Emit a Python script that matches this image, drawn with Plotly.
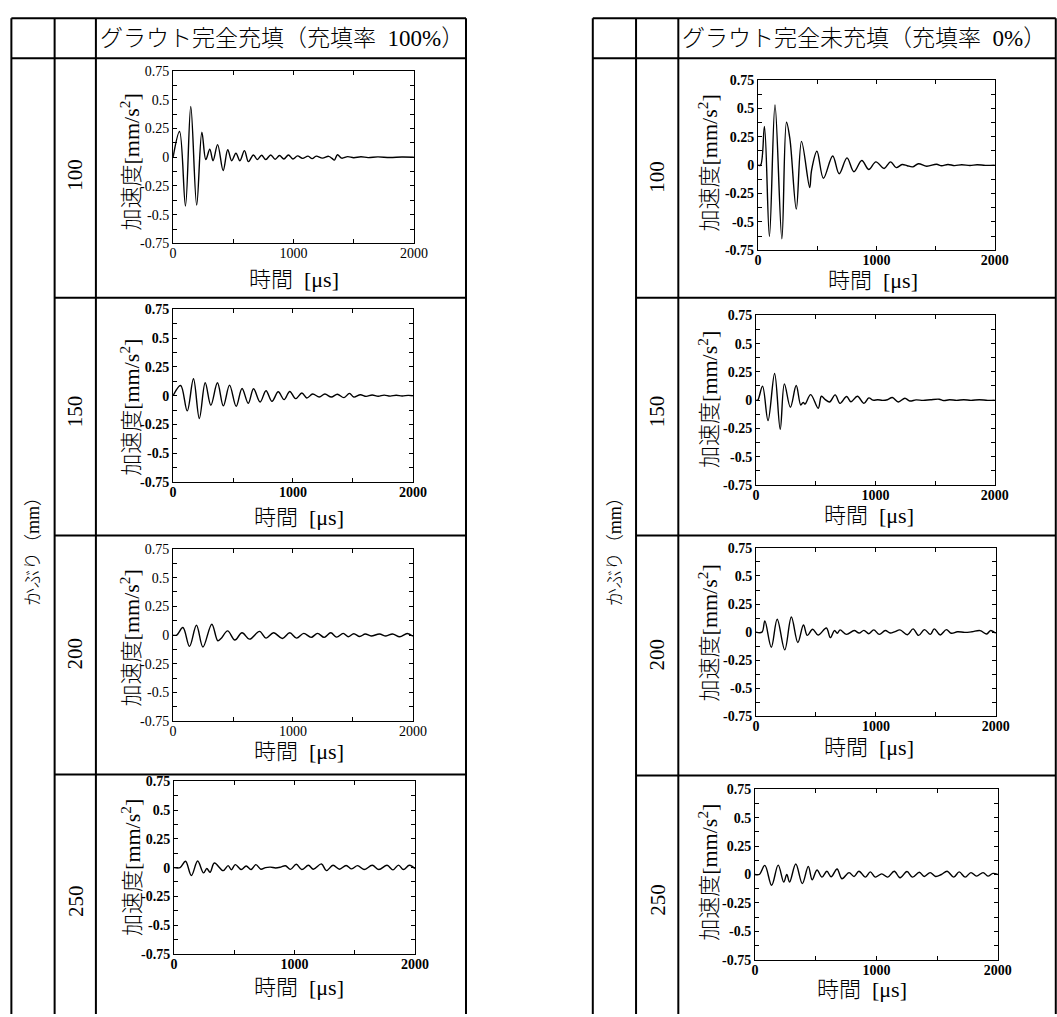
import plotly.graph_objects as go

W, H = 1057, 1017

# ---------------- data ----------------
covers = ["100", "150", "200", "250"]
headers = ["グラウト完全充填（充填率\u2002100%）", "グラウト完全未充填（充填率\u20020%）"]
side_label = "かぶり（mm）"
x_title = "時間\u2002[μs]"
y_title = "加速度[mm/s<sup>2</sup>]"
x_tick_vals = [0, 1000, 2000]
x_tick_text = ["0", "1000", "2000"]
y_tick_vals = [-0.75, -0.5, -0.25, 0, 0.25, 0.5, 0.75]
y_tick_text = ["-0.75", "-0.5", "-0.25", "0", "0.25", "0.5", "0.75"]

# (time [us], acceleration)
full_100 = [(0, 0), (54, 0.224), (103, -0.424), (147, 0.442), (196, -0.416), (239, 0.218),
            (272, -0.02), (305, 0.07), (332, -0.03), (370, 0.11), (416, -0.115), (454, 0.065),
            (487, -0.03), (522, 0.035), (555, -0.03), (593, 0.058), (626, -0.038), (667, 0.02),
            (700, -0.02), (735, 0.018), (770, -0.02), (811, 0.02), (848, -0.018), (884, 0.015),
            (920, -0.015), (958, 0.02), (995, -0.015), (1034, 0.012), (1075, -0.01), (1121, 0.01),
            (1155, -0.012), (1189, 0.01), (1240, -0.008), (1292, 0.008), (1320, -0.01),
            (1340, -0.025), (1365, 0.022), (1400, -0.008), (1450, 0.005), (1500, -0.004),
            (1560, 0.004), (1620, -0.003), (1700, 0.003), (1800, -0.002), (1900, 0.002), (2000, 0)]

full_150 = [(0, 0), (63, 0.089), (118, -0.132), (170, 0.147), (219, -0.198), (268, 0.112),
            (315, -0.083), (370, 0.112), (419, -0.089), (471, 0.092), (526, -0.092), (575, 0.063),
            (627, -0.066), (671, 0.06), (726, -0.055), (775, 0.043), (825, -0.049), (877, 0.034),
            (926, -0.034), (973, 0.037), (1022, -0.026), (1074, 0.023), (1115, -0.02), (1164, 0.014),
            (1219, -0.011), (1266, 0.014), (1320, -0.012), (1370, 0.012), (1425, -0.017), (1471, 0.02),
            (1507, -0.012), (1562, 0.008), (1610, -0.006), (1660, 0.006), (1710, -0.005), (1760, 0.005),
            (1810, -0.004), (1860, 0.004), (1910, -0.003), (1960, 0.003), (2000, 0)]

full_200 = [(0, 0), (30, 0), (82, 0.066), (137, -0.098), (195, 0.086), (249, -0.103), (323, 0.095),
            (373, -0.049), (400, -0.03), (455, 0.037), (515, -0.043), (575, 0.02), (638, -0.035),
            (721, 0.032), (775, -0.026), (838, 0.02), (912, -0.029), (973, 0.02), (1030, -0.026),
            (1090, 0.015), (1151, -0.02), (1205, 0.015), (1260, -0.02), (1315, 0.02), (1364, -0.018),
            (1419, 0.015), (1460, -0.014), (1507, 0.012), (1556, -0.012), (1603, 0.01), (1652, -0.008),
            (1721, 0.01), (1775, -0.008), (1830, 0.01), (1890, -0.015), (1953, 0.014), (2000, -0.01)]

full_250 = [(0, 0), (50, 0), (95, 0.055), (144, -0.069), (196, 0.057), (245, -0.046), (272, -0.008),
            (299, -0.04), (335, 0.04), (408, -0.026), (449, 0.017), (476, -0.018), (509, 0.026),
            (558, -0.017), (599, 0.014), (639, -0.017), (680, 0.026), (721, -0.014), (760, 0.0),
            (800, 0.004), (843, -0.003), (885, 0.004), (925, 0.016), (966, -0.015), (1015, 0.029),
            (1061, -0.017), (1116, 0.02), (1157, -0.014), (1224, 0.032), (1265, -0.026), (1320, 0.02),
            (1374, -0.014), (1429, 0.019), (1475, -0.011), (1524, 0.017), (1578, -0.017), (1646, 0.02),
            (1701, -0.017), (1769, 0.02), (1818, -0.02), (1864, 0.022), (1905, -0.017), (1954, 0.02),
            (2000, -0.01)]

empty_100 = [(0, 0), (22, 0), (55, 0.34), (97, -0.628), (144, 0.529), (202, -0.648), (241, 0.378),
             (270, 0.23), (324, -0.387), (368, 0.209), (437, -0.198), (452, -0.05), (498, 0.122),
             (553, -0.116), (631, 0.081), (686, -0.076), (752, 0.064), (810, -0.058), (877, 0.041),
             (935, -0.038), (996, 0.029), (1065, -0.029), (1120, 0.029), (1167, -0.022), (1217, 0.005),
             (1260, -0.005), (1306, -0.015), (1355, 0.012), (1425, -0.01), (1508, 0.008), (1550, -0.006),
             (1604, 0.006), (1660, -0.004), (1720, 0.004), (1790, -0.003), (1850, 0.003), (1920, -0.002),
             (2000, 0)]

empty_150 = [(0, 0), (15, 0), (55, 0.124), (101, -0.181), (156, 0.236), (203, -0.259), (238, 0.144),
             (288, -0.063), (337, 0.129), (375, -0.043), (395, -0.02), (410, -0.035), (458, 0.049),
             (521, -0.072), (548, 0.034), (580, 0.005), (616, -0.017), (663, 0.046), (704, -0.029),
             (759, 0.032), (795, -0.014), (849, 0.034), (904, -0.029), (945, 0.02), (980, 0.0),
             (1020, 0.003), (1060, -0.002), (1100, 0.003), (1142, 0.023), (1192, -0.017), (1247, 0.017),
             (1288, -0.008), (1340, 0.002), (1400, -0.002), (1460, 0.003), (1534, 0.008), (1570, -0.004),
             (1620, 0.003), (1680, -0.002), (1740, 0.003), (1800, -0.002), (1870, 0.003), (1940, -0.002),
             (2000, 0)]

empty_200 = [(0, 0), (50, 0), (74, 0.1), (128, -0.135), (177, 0.115), (240, -0.158), (295, 0.135),
             (349, -0.092), (396, 0.063), (428, -0.029), (472, 0.026), (518, -0.026), (587, 0.037),
             (620, -0.049), (655, 0.014), (678, -0.01), (701, 0.02), (756, -0.02), (819, 0.014),
             (860, -0.008), (900, 0.016), (941, -0.014), (982, 0.02), (1029, -0.02), (1078, 0.014),
             (1119, -0.008), (1160, 0.005), (1200, 0.02), (1263, -0.023), (1310, 0.029), (1356, -0.029),
             (1405, 0.022), (1454, -0.02), (1487, 0.029), (1536, -0.025), (1588, 0.022), (1629, -0.01),
             (1680, 0.003), (1740, -0.002), (1800, 0.003), (1869, 0.014), (1924, -0.017), (1956, 0.014),
             (2000, -0.01)]

empty_250 = [(0, 0), (35, 0), (81, 0.08), (137, -0.095), (191, 0.083), (237, -0.066), (262, 0.0),
             (285, -0.066), (336, 0.092), (390, -0.08), (439, 0.072), (471, -0.046), (511, 0.04),
             (552, -0.023), (592, 0.029), (627, -0.02), (676, 0.049), (716, -0.037), (775, 0.017),
             (816, -0.017), (856, 0.029), (910, -0.023), (950, 0.023), (991, -0.023), (1044, 0.006),
             (1093, -0.023), (1147, 0.029), (1195, -0.029), (1252, 0.026), (1297, -0.023), (1354, 0.02),
             (1394, -0.017), (1443, 0.017), (1488, -0.017), (1535, 0.0), (1583, 0.029), (1637, -0.023),
             (1682, 0.023), (1731, -0.023), (1779, 0.017), (1825, -0.014), (1879, 0.017), (1919, -0.014),
             (1960, 0.01), (2000, 0)]

series = [full_100, full_150, full_200, full_250, empty_100, empty_150, empty_200, empty_250]

# ---------------- layout geometry (pixels) ----------------
# plot box: x0, x1, y0(top), y1(bottom), bold ticks, ytitle (x, y), xtitle (x, y)
boxes = [
    (172, 417, 65, 240, False, (128, 157), (295, 277)),
    (172, 416, 307, 482, True, (128, 406), (300, 518)),
    (172, 416, 550, 725, False, (128, 640), (300, 756)),
    (173, 418, 786, 961, True, (129, 873), (300, 995)),
    (767, 1008, 74, 247, True, (716, 158), (884, 278)),
    (765, 1008, 313, 485, True, (716, 398), (880, 516)),
    (765, 1009, 549, 720, True, (716, 635), (880, 752)),
    (764, 1011, 794, 967, True, (716, 878), (873, 997)),
]

SERIF = "Liberation Serif, Noto Sans CJK JP, serif"


def fx(x):
    return x / W


def fy(y):
    return 1 - y / H


fig = go.Figure()
layout = dict(
    width=W, height=H, autosize=False,
    margin=dict(l=0, r=0, t=0, b=0, pad=0),
    paper_bgcolor="white", plot_bgcolor="white",
    showlegend=False,
)
annotations = []
shapes = []

for i, (data, box) in enumerate(zip(series, boxes), start=1):
    x0, x1, y0, y1, bold, yt, xt = box
    sfx = "" if i == 1 else str(i)
    fig.add_trace(go.Scatter(
        x=[p[0] for p in data], y=[p[1] for p in data], mode="lines",
        line=dict(color="black", width=1.4, shape="spline", smoothing=1.0),
        xaxis="x" + sfx, yaxis="y" + sfx, hoverinfo="skip", showlegend=False))
    tf = dict(family="Liberation Serif, serif", size=14, color="black",
              weight="bold" if bold else "normal")
    layout["xaxis" + sfx] = dict(
        domain=[fx(x0), fx(x1)], anchor="y" + sfx, range=[0, 2000],
        tickmode="array", tickvals=x_tick_vals, ticktext=x_tick_text,
        ticks="inside", ticklen=4, tickwidth=1, tickcolor="black",
        ticklabelstandoff=-3,
        minor=dict(tickmode="array", tickvals=[500, 1500], ticks="inside", ticklen=4,
                   tickcolor="black", showgrid=False),
        showline=True, linecolor="black", linewidth=1, mirror="ticks",
        showgrid=False, zeroline=False, tickfont=tf, fixedrange=True)
    layout["yaxis" + sfx] = dict(
        domain=[fy(y1), fy(y0)], anchor="x" + sfx, range=[-0.75, 0.75],
        tickmode="array", tickvals=y_tick_vals, ticktext=y_tick_text,
        ticks="inside", ticklen=4, tickwidth=1, tickcolor="black",
        minor=dict(tickmode="array", tickvals=[-0.625, -0.375, -0.125, 0.125, 0.375, 0.625],
                   ticks="inside", ticklen=4, tickcolor="black", showgrid=False),
        showline=True, linecolor="black", linewidth=1, mirror="ticks",
        showgrid=False, zeroline=False, tickfont=tf, fixedrange=True)
    annotations.append(dict(
        text=y_title, x=fx(yt[0]), y=fy(yt[1]), xref="paper", yref="paper",
        xanchor="center", yanchor="middle", textangle=-90, showarrow=False,
        font=dict(family=SERIF, size=22, color="black", weight=300)))
    annotations.append(dict(
        text=x_title, x=fx(xt[0]), y=fy(xt[1]), xref="paper", yref="paper",
        xanchor="center", yanchor="middle", showarrow=False,
        font=dict(family=SERIF, size=22, color="black", weight=300)))

# ---------------- table frames ----------------
def hline(y, xa, xb):
    shapes.append(dict(type="line", xref="paper", yref="paper", x0=fx(xa), x1=fx(xb),
                       y0=fy(y), y1=fy(y), line=dict(color="black", width=2)))


def vline(x, ya, yb):
    shapes.append(dict(type="line", xref="paper", yref="paper", x0=fx(x), x1=fx(x),
                       y0=fy(ya), y1=fy(yb), line=dict(color="black", width=2)))


tables = [
    # left edge, col1, col2, right edge, row lines, header x, label-col centre, side centre
    (7.5, 51.5, 93.5, 470, [295, 536.5, 779], 96, 72.5, 29.5),
    (599, 643, 686, 1070, [295, 536.5, 780], 688, 664.5, 621),
]
row_label_y = [[170, 410, 656, 907], [172, 410, 657, 906]]

for ti, (le, c1, c2, re, rows, hx, lx, sx) in enumerate(tables):
    hline(11.5, le, re)
    hline(52, le, re)
    vline(le, 11.5, H + 5)
    vline(c1, 11.5, H + 5)
    vline(c2, 11.5, H + 5)
    vline(re, 11.5, H + 5)
    for r in rows:
        hline(r, c1, re)
    annotations.append(dict(
        text=headers[ti], x=fx(hx), y=fy(32), xref="paper", yref="paper",
        xanchor="left", yanchor="middle", showarrow=False,
        font=dict(family=SERIF, size=23, color="black", weight=300)))
    annotations.append(dict(
        text=side_label, x=fx(sx), y=fy(548), xref="paper", yref="paper",
        xanchor="center", yanchor="middle", textangle=-90, showarrow=False,
        font=dict(family=SERIF, size=18, color="black", weight=300)))
    for k, c in enumerate(covers):
        annotations.append(dict(
            text=c, x=fx(lx), y=fy(row_label_y[ti][k]), xref="paper", yref="paper",
            xanchor="center", yanchor="middle", textangle=-90, showarrow=False,
            font=dict(family="Liberation Serif, serif", size=21, color="black")))

layout["annotations"] = annotations
layout["shapes"] = shapes
fig.update_layout(**layout)
fig.write_html("out.html")
